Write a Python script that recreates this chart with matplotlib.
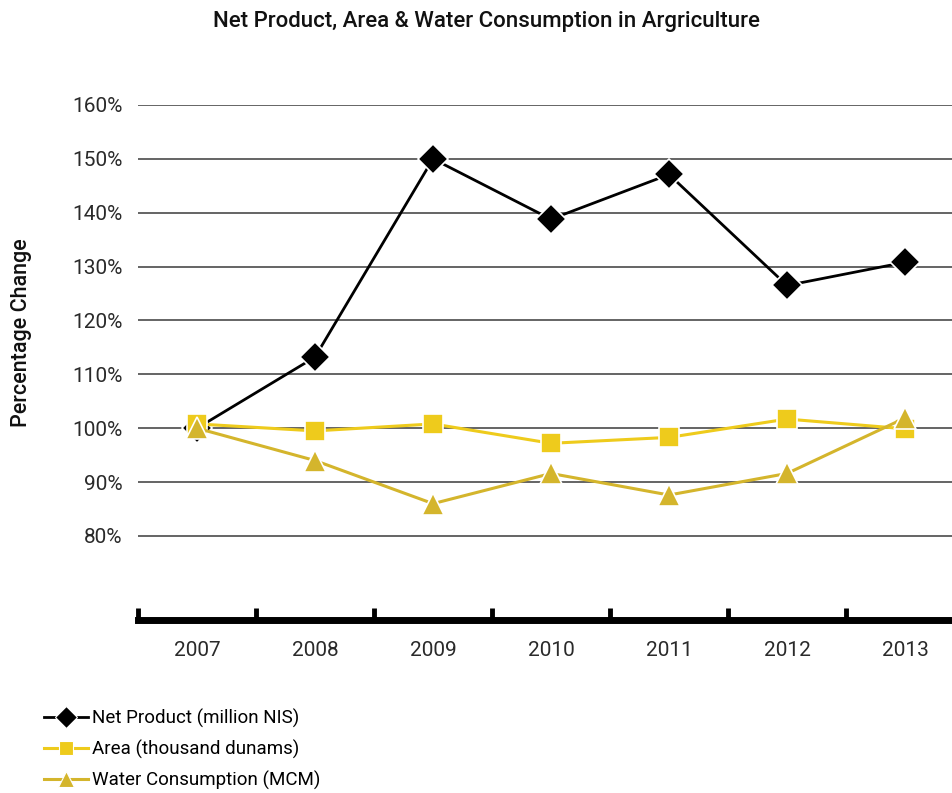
import matplotlib
matplotlib.use("Agg")
import matplotlib.pyplot as plt
from matplotlib.lines import Line2D

years = ["2007", "2008", "2009", "2010", "2011", "2012", "2013"]
net_product = [100.0, 113.2, 150.0, 138.8, 147.1, 126.5, 130.8]
area = [100.8, 99.5, 100.8, 97.2, 98.3, 101.7, 99.9]
water = [100.0, 94.0, 86.0, 91.6, 87.6, 91.6, 101.9]
y_ticks = [80, 90, 100, 110, 120, 130, 140, 150, 160]

BLACK = "#000000"
YELLOW = "#EECB1C"
OCHRE = "#D4B52C"
TEXT = "#111111"

plt.rcParams["font.family"] = ["Roboto", "DejaVu Sans"]

W, H = 952, 793
fig = plt.figure(figsize=(W / 100, H / 100), dpi=100)

# axes extend past the right edge, as the last category is partly clipped
left, right = 138, 964
top, bottom = 105, 620
ax = fig.add_axes([left / W, 1 - bottom / H, (right - left) / W, (bottom - top) / H])

x = list(range(len(years)))
ax.set_xlim(-0.5, len(years) - 0.5)
ax.set_ylim(64.4, 160)

for v in y_ticks:
    ax.axhline(v, color="#3a3a3a", lw=1.1, zorder=1)

ax.plot(x, net_product, color=BLACK, lw=2.0, marker="D", ms=15.5,
        mfc=BLACK, mec="white", mew=1.2, zorder=3)
ax.plot(x, area, color=YELLOW, lw=2.2, marker="s", ms=14,
        mfc=YELLOW, mec="white", mew=1.2, zorder=4)
ax.plot(x, water, color=OCHRE, lw=2.2, marker="^", ms=16,
        mfc=OCHRE, mec="white", mew=1.2, zorder=5)

ax.set_yticks(y_ticks)
ax.set_yticklabels([f"{v}%" for v in y_ticks], fontsize=15, fontweight="normal",
                   color="#2a2a2a")
ax.tick_params(axis="y", length=0, pad=11)

ax.set_xticks([i - 0.5 for i in range(len(years) + 1)], minor=False)
ax.set_xticklabels([""] * (len(years) + 1))
ax.tick_params(axis="x", which="major", direction="in", length=9, width=3.5,
               color=BLACK)
ax.set_xticks(x, minor=True)
ax.set_xticklabels(years, minor=True, fontsize=15, fontweight="normal",
                   color="#2a2a2a")
ax.tick_params(axis="x", which="minor", length=0, pad=15)

for s in ["top", "right", "left"]:
    ax.spines[s].set_visible(False)
ax.spines["bottom"].set_linewidth(5)
ax.spines["bottom"].set_color(BLACK)

fig.text(486 / W, 1 - 22 / H, "Net Product, Area & Water Consumption in Argriculture",
         ha="center", va="center", fontsize=16, fontweight="medium", color=TEXT)
fig.text(22 / W, 1 - 333 / H, "Percentage Change", rotation=90, ha="center",
         va="center", fontsize=15.5, fontweight="medium", color=TEXT)

handles = [
    Line2D([], [], color=BLACK, lw=2.0, marker="D", ms=11, mfc=BLACK, mec="white", mew=0.8),
    Line2D([], [], color=YELLOW, lw=2.2, marker="s", ms=10, mfc=YELLOW, mec="white", mew=0.8),
    Line2D([], [], color=OCHRE, lw=2.2, marker="^", ms=12, mfc=OCHRE, mec="white", mew=0.8),
]
labels = ["Net Product (million NIS)", "Area (thousand dunams)", "Water Consumption (MCM)"]
fig.legend(handles, labels, loc="upper left", bbox_to_anchor=(44 / W, 1 - 709 / H),
           frameon=False, fontsize=13.5, handlelength=2.35, handletextpad=0.2,
           labelspacing=0.62, borderaxespad=0, borderpad=0)

fig.savefig("out.png", dpi=100)
